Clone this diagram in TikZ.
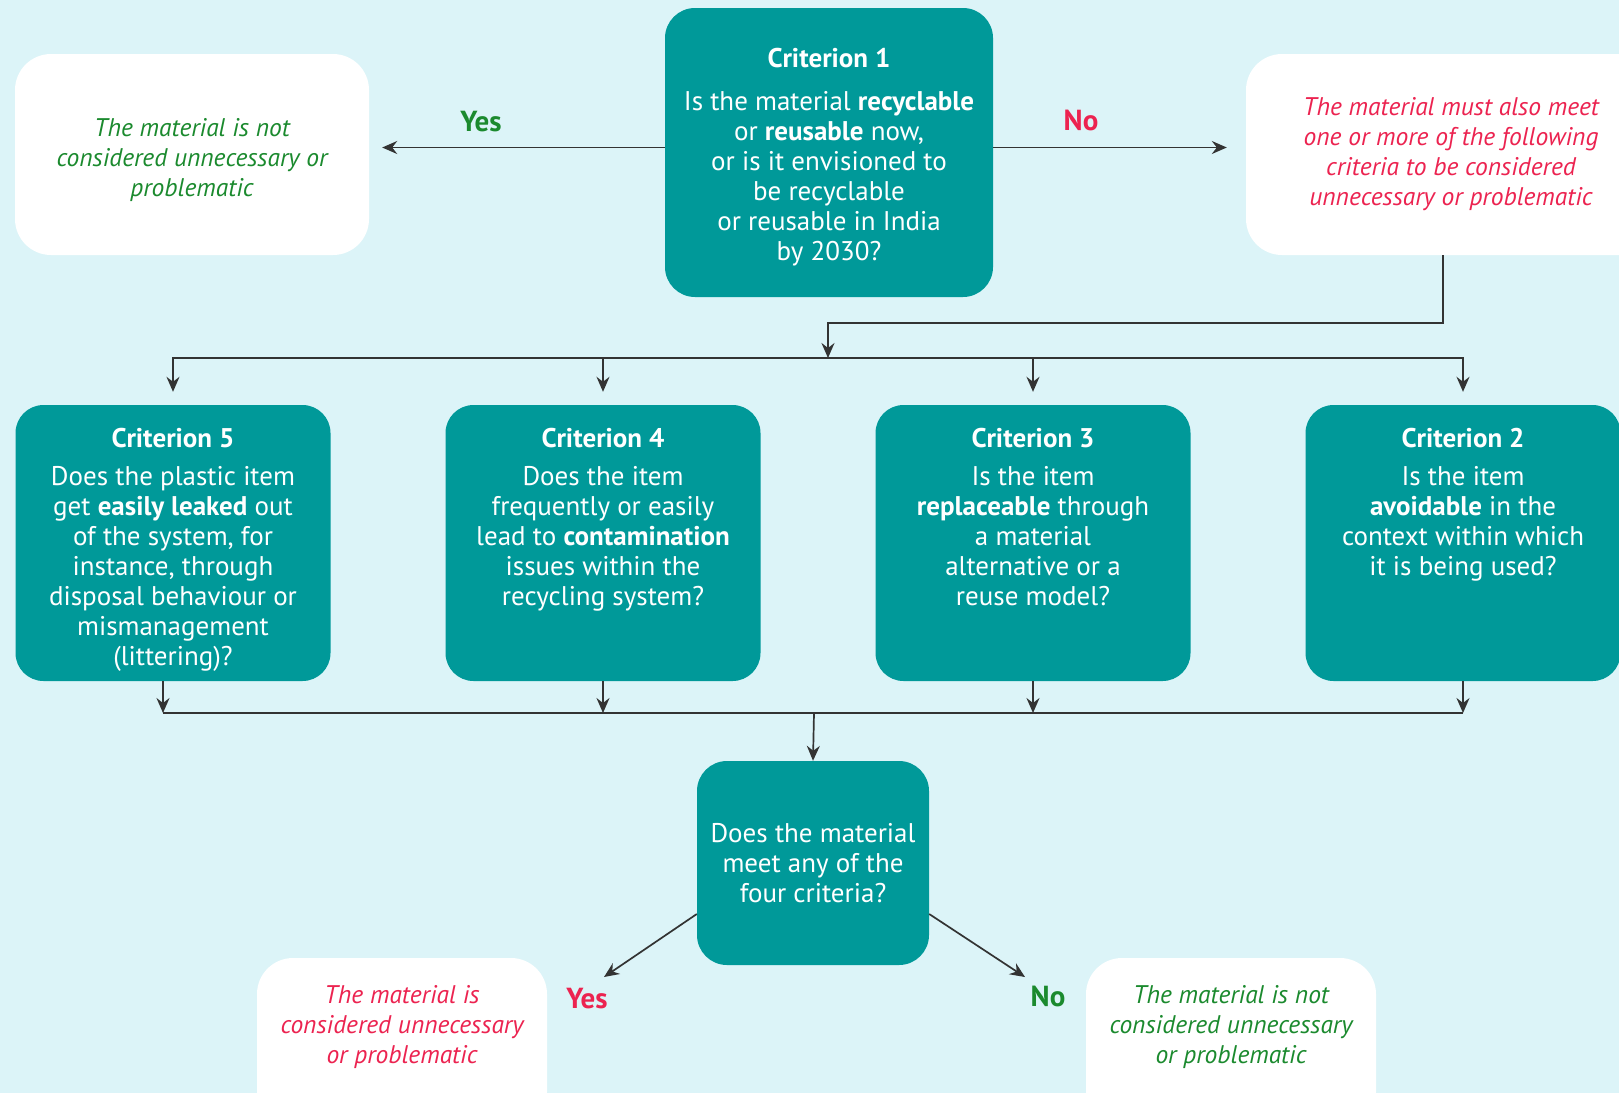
\documentclass[tikz,border=0pt]{standalone}
\usepackage{fontspec}
\setmainfont{PT Sans}
\usetikzlibrary{shapes,arrows,arrows.meta}
\definecolor{fond}{HTML}{DCF4F8}
\definecolor{sarcelle}{HTML}{009999}
\definecolor{vert}{HTML}{1B8A2E}
\definecolor{rouge}{HTML}{EC2350}
\definecolor{trait}{HTML}{333333}
\newcommand{\crittext}[2]{\parbox[c][262pt][t]{310pt}{\vspace*{16pt}\centering
	\textbf{#1}\\[8pt]#2}}

\begin{document}
\begin{tikzpicture}[x=1pt,y=-1pt]
	\tikzstyle{crit}=[rectangle,rounded corners=28pt,fill=sarcelle,text=white,
	minimum width=315pt,minimum height=276pt,inner sep=0pt,
	font=\fontsize{27}{30}\selectfont]
	\tikzstyle{question}=[crit,align=center]
	\tikzstyle{answer}=[rectangle,rounded corners=36pt,fill=white]
	\tikzstyle{answertext}=[align=center,font=\fontsize{25.5}{30}\selectfont\itshape]
	\tikzstyle{yesno}=[font=\fontsize{29}{30}\selectfont\bfseries]

	\useasboundingbox (0,0) rectangle (1619,1093);
	\clip (0,0) rectangle (1619,1093);
	\fill[fond] (0,0) rectangle (1619,1093);

	\node[question,minimum width=328pt,minimum height=289pt,rounded corners=30pt]
	(c1) at (829,152.5) {\rule{0pt}{28pt}\textbf{Criterion 1}\\[13pt]Is the material
	\textbf{recyclable}\\or \textbf{reusable} now,\\or is it envisioned to\\be
	recyclable\\or reusable in India\\by 2030?};

	\node[answer,minimum width=354pt,minimum height=201pt,answertext,text=vert]
	(wl) at (192,154.5) {\rule{0pt}{29pt}The material is not\\considered
	unnecessary or\\problematic};
	\node[answer,minimum width=410pt,minimum height=201pt,answertext,text=rouge]
	(wr) at (1451,154.5) {The material must also meet\\one or more of the
	following\\criteria to be considered\\unnecessary or problematic};

	\node[crit] (c5) at (173,543) {\crittext{Criterion 5}{Does the plastic item\\get
	\textbf{easily leaked} out\\of the system, for\\instance, through\\disposal
	behaviour or\\mismanagement\\(littering)?}};
	\node[crit] (c4) at (603,543) {\crittext{Criterion 4}{Does the item\\frequently
	or easily\\lead to \textbf{contamination}\\issues within the\\recycling system?}};
	\node[crit] (c3) at (1033,543) {\crittext{Criterion 3}{Is the
	item\\\textbf{replaceable} through\\a material\\alternative or a\\reuse model?}};
	\node[crit] (c2) at (1463,543) {\crittext{Criterion 2}{Is the
	item\\\textbf{avoidable} in the\\context within which\\it is being used?}};

	\node[question,minimum width=232pt,minimum height=204pt,rounded corners=30pt]
	(q) at (813,863) {Does the material\\meet any of the\\four criteria?};

	\node[answer,minimum width=290pt,minimum height=170pt] (bl) at (402,1043) {};
	\node[answertext,text=rouge] (bltext) at (402,1027) {The material
	is\\considered unnecessary\\or problematic};
	\node[answer,minimum width=290pt,minimum height=170pt] (br) at (1231,1043) {};
	\node[answertext,text=vert] (brtext) at (1231,1027) {The material is
	not\\considered unnecessary\\or problematic};

	\node[yesno,text=vert] (yes1) at (481,122) {Yes};
	\node[yesno,text=rouge] (no1) at (1081,120) {No};
	\node[yesno,text=rouge] (yes2) at (587,999) {Yes};
	\node[yesno,text=vert] (no2) at (1048,996) {No};

	\coordinate (jog) at (828,323);
	\coordinate (split) at (828,358);
	\coordinate (merge) at (814,713);
	\coordinate (tipyes) at (604,977);
	\coordinate (tipno) at (1025,977);

	\tikzstyle{flow}=[->,>={Stealth[length=15pt,width=13pt,inset=5pt]},
	draw=trait,line width=1.7pt]
	\tikzstyle{line}=[draw=trait,line width=1.7pt]

	\draw[flow,shorten >=13pt] ([yshift=5pt]c1.west) -- ([yshift=5pt]c1.west -| wl.east);
	\draw[flow,shorten >=19pt] ([yshift=5pt]c1.east) -- ([yshift=5pt]c1.east -| wr.west);
	\draw[flow] ([xshift=-8pt]wr.south) |- (jog) -- (split);
	\draw[flow,shorten >=13pt] (split) -| (c5.north);
	\draw[flow,shorten >=13pt] (split) -| (c4.north);
	\draw[flow,shorten >=13pt] (split) -| (c3.north);
	\draw[flow,shorten >=13pt] (split) -| (c2.north);
	\draw[flow] ([xshift=-10pt]c5.south) -- ([xshift=-10pt]c5.south |- merge);
	\draw[flow] (c4.south) -- (c4.south |- merge);
	\draw[flow] (c3.south) -- (c3.south |- merge);
	\draw[flow] (c2.south) -- (c2.south |- merge);
	\draw[line] ([xshift=-10pt]c5.south |- merge) -- (c2.south |- merge);
	\draw[flow] (merge) -- (q.north);
	\draw[flow] ([yshift=-51pt]q.west) -- (tipyes);
	\draw[flow] ([yshift=-51pt]q.east) -- (tipno);
\end{tikzpicture}
\end{document}
